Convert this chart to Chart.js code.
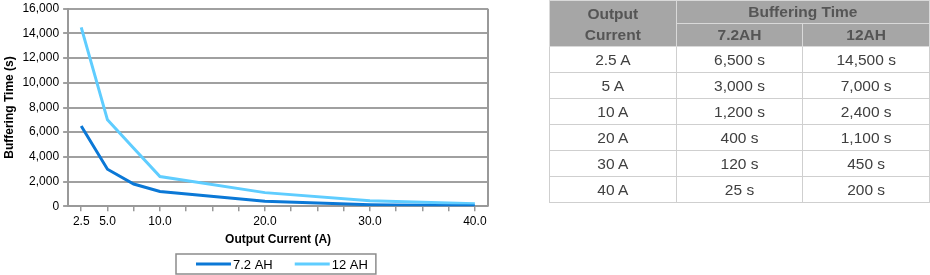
<!DOCTYPE html>
<html>
<head>
<meta charset="utf-8">
<script src="https://cdn.jsdelivr.net/npm/chart.js@4/dist/chart.umd.min.js"></script>
<style>
    body { margin: 0; background: #fff; width: 930px; height: 275px; overflow: hidden; position: relative; }
    #chart-wrap { position: absolute; left: 0; top: 0; width: 552px; height: 275px; }
    #buffer-table {
        position: absolute; left: 549px; top: 0; width: 381px;
        border-collapse: collapse; font-family: "Liberation Sans", Arial, sans-serif;
        font-size: 15.5px; table-layout: fixed;
    }
    #buffer-table th {
        background: #a6a6a6; color: #555; font-weight: bold; height: 22px; padding: 0;
        border: 1px solid #d9d9d9;
    }
    #buffer-table td {
        color: #404040; text-align: center; height: 25px; padding: 0;
        border: 1px solid #cfcfcf;
    }
</style>
</head>
<body>
<div id="chart-wrap"><canvas id="bufferChart" width="552" height="275"></canvas></div>
<table id="buffer-table">
    <thead>
        <tr><th rowspan="2" style="line-height:21px">Output<br>Current</th><th colspan="2">Buffering Time</th></tr>
        <tr><th id="head-72"></th><th id="head-12"></th></tr>
    </thead>
    <tbody id="buffer-body"></tbody>
</table>
<script>
// table values
const tableCurrents = ['2.5 A', '5 A', '10 A', '20 A', '30 A', '40 A'];
const table72 = ['6,500 s', '3,000 s', '1,200 s', '400 s', '120 s', '25 s'];
const table12 = ['14,500 s', '7,000 s', '2,400 s', '1,100 s', '450 s', '200 s'];

// chart values
const currents = [2.5, 5, 7.5, 10, 20, 30, 40];
const time72 = [6500, 3000, 1800, 1200, 400, 120, 25];
const time12 = [14500, 7000, 4700, 2400, 1100, 450, 200];
const seriesNames = ['7.2 AH', '12 AH'];
const xLabelTicks = [2.5, 5, 10, 20, 30, 40];

document.getElementById('head-72').textContent = '7.2AH';
document.getElementById('head-12').textContent = '12AH';
const body = document.getElementById('buffer-body');
tableCurrents.forEach((c, i) => {
    const row = document.createElement('tr');
    row.innerHTML = `<td>${c}</td><td>${table72[i]}</td><td>${table12[i]}</td>`;
    body.appendChild(row);
});

const toPoints = (ys) => currents.map((x, i) => ({x: x, y: ys[i]}));
const fontFamily = '"Liberation Sans", Arial, sans-serif';

// right side frame of the plot, and an Excel style boxed legend under the axis title
const framePlugin = {
    id: 'framePlugin',
    afterDraw(chart) {
        const ctx = chart.ctx;
        const a = chart.chartArea;
        ctx.save();
        ctx.strokeStyle = '#999';
        ctx.lineWidth = 2;
        ctx.beginPath();
        ctx.moveTo(a.right, a.top);
        ctx.lineTo(a.right, a.bottom);
        ctx.stroke();

        ctx.font = '13px ' + fontFamily;
        const sets = chart.data.datasets;
        const widths = sets.map(ds => ctx.measureText(ds.label).width);
        const lineLen = 35, gap = 22, padL = 20, padR = 8;
        let total = padL + padR + gap * (sets.length - 1);
        widths.forEach(w => total += lineLen + 2 + w);
        const boxLeft = Math.round((a.left + a.right) / 2 - 2 - total / 2);
        const boxTop = chart.height - 21;
        ctx.strokeStyle = '#8c8c8c';
        ctx.lineWidth = 1.5;
        ctx.strokeRect(boxLeft, boxTop, total, 20);
        let x = boxLeft + padL;
        const yMid = boxTop + 10;
        ctx.textBaseline = 'middle';
        ctx.fillStyle = '#000';
        sets.forEach((ds, i) => {
            ctx.strokeStyle = ds.borderColor;
            ctx.lineWidth = 3;
            ctx.beginPath();
            ctx.moveTo(x, yMid);
            ctx.lineTo(x + lineLen, yMid);
            ctx.stroke();
            ctx.fillText(ds.label, x + lineLen + 2, yMid + 1);
            x += lineLen + 2 + widths[i] + gap;
        });
        ctx.restore();
    }
};

const font = { family: fontFamily, size: 12 };

new Chart(document.getElementById('bufferChart'), {
    type: 'line',
    data: {
        datasets: [
            { label: seriesNames[0], data: toPoints(time72), borderColor: '#0b78d6', backgroundColor: '#0b78d6', borderWidth: 3, pointRadius: 0, tension: 0 },
            { label: seriesNames[1], data: toPoints(time12), borderColor: '#5fcdff', backgroundColor: '#5fcdff', borderWidth: 3, pointRadius: 0, tension: 0 }
        ]
    },
    options: {
        responsive: false,
        animation: false,
        layout: { padding: { top: 0, right: 64, left: 0, bottom: 24 } },
        plugins: {
            tooltip: { enabled: false },
            legend: { display: false }
        },
        scales: {
            x: {
                type: 'linear', min: 1.25, max: 41.25,
                afterBuildTicks: (axis) => {
                    const ticks = [];
                    for (let v = 2.5; v <= 40; v += 2.5) ticks.push({ value: v });
                    axis.ticks = ticks;
                },
                ticks: {
                    autoSkip: false, maxRotation: 0, color: '#000', font: font, padding: 3,
                    callback: (v) => xLabelTicks.includes(v) ? v.toFixed(1) : ''
                },
                grid: { drawOnChartArea: false, drawTicks: true, tickLength: 5, color: '#999', lineWidth: 1.5 },
                border: { color: '#999', width: 2 },
                title: { display: true, text: 'Output Current (A)', color: '#000', font: { family: fontFamily, size: 12, weight: 'bold' }, padding: { top: 1, bottom: 4 } }
            },
            y: {
                min: 0, max: 16000,
                ticks: { stepSize: 2000, color: '#000', font: { family: fontFamily, size: 12, lineHeight: 0.8 }, padding: 4, callback: (v) => v.toLocaleString('en-US') },
                grid: { color: '#a0a0a0', lineWidth: 2, tickLength: 5 },
                border: { color: '#999', width: 2 },
                title: { display: true, text: 'Buffering Time (s)', color: '#000', font: { family: fontFamily, size: 12, weight: 'bold' }, padding: 2 }
            }
        }
    },
    plugins: [framePlugin]
});
</script>
</body>
</html>
